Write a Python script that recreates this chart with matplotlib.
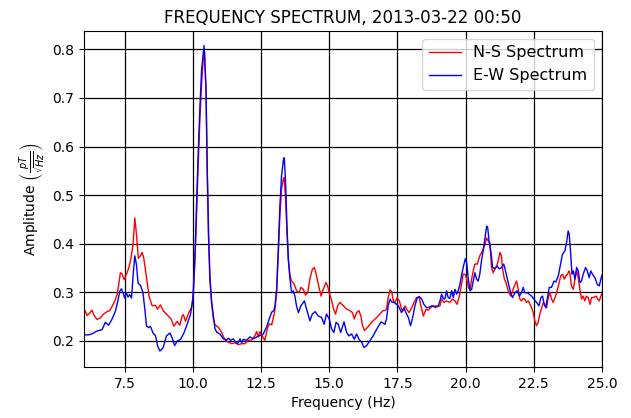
import matplotlib
matplotlib.use("Agg")
import matplotlib.pyplot as plt
import numpy as np

TITLE = "FREQUENCY SPECTRUM, 2013-03-22 00:50"
XTICKS = [7.5, 10.0, 12.5, 15.0, 17.5, 20.0, 22.5, 25.0]
YTICKS = [0.2, 0.3, 0.4, 0.5, 0.6, 0.7, 0.8]

# N-S spectrum
NS_FREQ = [
    6.00, 6.05, 6.12, 6.20, 6.30, 6.38, 6.48, 6.61, 6.72, 6.85, 6.95, 7.03, 7.16, 7.22,
    7.28, 7.34, 7.40, 7.48, 7.55, 7.65, 7.73, 7.81, 7.87, 7.93, 8.00, 8.08, 8.14, 8.20,
    8.30, 8.40, 8.51, 8.63, 8.70, 8.81, 8.91, 9.03, 9.12, 9.20, 9.30, 9.37, 9.42, 9.52,
    9.60, 9.65, 9.73, 9.85, 9.95,
    10.02, 10.08, 10.14, 10.20, 10.26, 10.32, 10.38, 10.43, 10.48, 10.52, 10.57, 10.62,
    10.68, 10.75, 10.81, 10.93, 11.05, 11.12, 11.21, 11.30, 11.42, 11.54, 11.67, 11.79,
    11.91, 12.03, 12.15, 12.28, 12.34, 12.40, 12.46, 12.56, 12.64, 12.73, 12.80, 12.89,
    12.97,
    13.01, 13.07, 13.13, 13.19, 13.25, 13.32, 13.35, 13.40, 13.45, 13.50, 13.56, 13.62,
    13.72, 13.80, 13.89, 13.96, 14.05, 14.13, 14.21, 14.29, 14.38, 14.45, 14.51, 14.60,
    14.70, 14.78, 14.88, 14.94, 15.00, 15.09, 15.16, 15.23, 15.31, 15.39, 15.52, 15.64,
    15.76, 15.85, 15.92, 16.00, 16.09, 16.16, 16.22, 16.29, 16.41, 16.55, 16.74, 16.90,
    16.98,
    17.04, 17.10, 17.16, 17.23, 17.29, 17.35, 17.41, 17.49, 17.57, 17.65, 17.71, 17.78,
    17.84, 17.93, 18.02, 18.11, 18.20, 18.30, 18.36, 18.45, 18.55, 18.63, 18.72, 18.79,
    18.88, 18.96, 19.06, 19.12, 19.21, 19.30, 19.42, 19.52, 19.61, 19.69, 19.77, 19.85,
    19.91, 19.98, 20.04, 20.10, 20.16, 20.22, 20.28, 20.34, 20.43, 20.52, 20.62, 20.71,
    20.77, 20.83,
    20.89, 20.95, 21.01, 21.07, 21.14, 21.21, 21.26, 21.31, 21.36, 21.42, 21.48, 21.56,
    21.65, 21.72, 21.81, 21.87, 21.93, 21.99, 22.05, 22.11, 22.17, 22.23, 22.30, 22.36,
    22.42, 22.48, 22.54, 22.60, 22.66, 22.72, 22.79, 22.85, 22.91, 22.97, 23.03, 23.09,
    23.15, 23.21, 23.30, 23.37, 23.43, 23.49, 23.55, 23.62, 23.68, 23.74, 23.79, 23.82,
    23.88, 23.95, 24.01, 24.07, 24.13, 24.19, 24.25, 24.31, 24.37, 24.43, 24.50, 24.56,
    24.62, 24.68, 24.78, 24.84, 24.90, 24.96, 25.00,
]
NS_AMP = [
    0.255, 0.262, 0.252, 0.256, 0.263, 0.252, 0.244, 0.247, 0.255, 0.260, 0.262, 0.270, 0.285, 0.295,
    0.315, 0.340, 0.338, 0.326, 0.335, 0.350, 0.370, 0.400, 0.453, 0.420, 0.370, 0.375, 0.382, 0.370,
    0.330, 0.290, 0.272, 0.273, 0.265, 0.274, 0.262, 0.255, 0.250, 0.245, 0.230, 0.236, 0.240, 0.232,
    0.250, 0.254, 0.240, 0.258, 0.268,
    0.300, 0.370, 0.470, 0.570, 0.660, 0.730, 0.780, 0.795, 0.720, 0.560, 0.420, 0.330,
    0.280, 0.245, 0.233, 0.228, 0.218, 0.208, 0.201, 0.197, 0.194, 0.196, 0.192, 0.194,
    0.194, 0.201, 0.201, 0.211, 0.219, 0.208, 0.219, 0.208, 0.201, 0.225, 0.235, 0.233,
    0.252,
    0.265, 0.299, 0.375, 0.457, 0.512, 0.534, 0.536, 0.491, 0.423, 0.368, 0.334, 0.323,
    0.316, 0.303, 0.299, 0.310, 0.306, 0.294, 0.299, 0.327, 0.347, 0.351, 0.340, 0.316,
    0.292, 0.306, 0.320, 0.313, 0.299, 0.282, 0.265, 0.255, 0.272, 0.279, 0.272, 0.265,
    0.262, 0.258, 0.245, 0.258, 0.262, 0.251, 0.231, 0.221, 0.228, 0.238, 0.248, 0.258,
    0.262,
    0.262, 0.265, 0.289, 0.305, 0.301, 0.282, 0.279, 0.289, 0.282, 0.265, 0.262, 0.272,
    0.265, 0.258, 0.268, 0.279, 0.289, 0.289, 0.272, 0.251, 0.265, 0.263, 0.268, 0.272,
    0.268, 0.270, 0.272, 0.286, 0.279, 0.282, 0.279, 0.286, 0.282, 0.275, 0.292, 0.316,
    0.337, 0.337, 0.327, 0.310, 0.305, 0.327, 0.344, 0.358, 0.358, 0.375, 0.385, 0.399,
    0.412, 0.405,
    0.402, 0.351, 0.340, 0.347, 0.354, 0.368, 0.382, 0.375, 0.347, 0.327, 0.320, 0.303,
    0.292, 0.303, 0.316, 0.323, 0.306, 0.286, 0.282, 0.287, 0.286, 0.279, 0.282, 0.275,
    0.268, 0.258, 0.240, 0.231, 0.238, 0.255, 0.268, 0.279, 0.275, 0.268, 0.289, 0.299,
    0.286, 0.279, 0.292, 0.306, 0.320, 0.334, 0.337, 0.327, 0.334, 0.337, 0.344, 0.340,
    0.313, 0.306, 0.327, 0.344, 0.330, 0.306, 0.286, 0.292, 0.282, 0.292, 0.289, 0.275,
    0.289, 0.289, 0.292, 0.286, 0.282, 0.292, 0.298,
]

# E-W spectrum
EW_FREQ = [
    6.00, 6.12, 6.24, 6.36, 6.48, 6.67, 6.79, 6.91, 7.03, 7.16, 7.26, 7.32, 7.38, 7.44,
    7.50, 7.56, 7.62, 7.68, 7.75, 7.81, 7.87, 7.93, 7.99, 8.08, 8.17, 8.24, 8.30, 8.38,
    8.44, 8.54, 8.63, 8.71, 8.79, 8.91, 9.03, 9.16, 9.24, 9.33, 9.42, 9.55, 9.67, 9.79,
    9.91,
    10.00, 10.08, 10.14, 10.20, 10.26, 10.32, 10.41, 10.48, 10.53, 10.58, 10.63, 10.69,
    10.75, 10.81, 10.87, 10.99, 11.12, 11.21, 11.30, 11.39, 11.48, 11.57, 11.64, 11.73,
    11.79, 11.85, 11.97, 12.09, 12.22, 12.34, 12.46, 12.58, 12.70, 12.80, 12.89, 12.97,
    13.01, 13.07, 13.13, 13.19, 13.25, 13.32, 13.35, 13.40, 13.45, 13.50, 13.56, 13.62,
    13.68, 13.74, 13.80, 13.87, 13.96, 14.09, 14.17, 14.29, 14.38, 14.48, 14.60, 14.72,
    14.81, 14.90, 15.00, 15.09, 15.17, 15.25, 15.33, 15.42, 15.54, 15.64, 15.72, 15.82,
    15.92, 16.00, 16.09, 16.19, 16.27, 16.37, 16.49, 16.61, 16.74, 16.90, 16.98,
    17.04, 17.10, 17.16, 17.23, 17.29, 17.37, 17.47, 17.53, 17.59, 17.65, 17.74, 17.81,
    17.90, 17.98, 18.06, 18.14, 18.23, 18.30, 18.39, 18.47, 18.57, 18.67, 18.75, 18.88,
    19.00, 19.06, 19.12, 19.18, 19.24, 19.30, 19.36, 19.42, 19.49, 19.55, 19.61, 19.67,
    19.73, 19.79, 19.85, 19.91, 19.99, 20.04, 20.10, 20.16, 20.22, 20.28, 20.34, 20.40,
    20.46, 20.52, 20.59, 20.65, 20.71, 20.77, 20.81, 20.86,
    20.93, 20.99, 21.07, 21.16, 21.23, 21.32, 21.40, 21.48, 21.56, 21.65, 21.72, 21.81,
    21.89, 21.97, 22.05, 22.11, 22.17, 22.26, 22.33, 22.42, 22.50, 22.60, 22.69, 22.76,
    22.82, 22.88, 22.94, 23.01, 23.07, 23.15, 23.24, 23.31, 23.40, 23.48, 23.55, 23.64,
    23.70, 23.76, 23.80, 23.85, 23.90, 23.95, 24.01, 24.07, 24.13, 24.19, 24.25, 24.31,
    24.40, 24.46, 24.53, 24.59, 24.65, 24.74, 24.83, 24.90, 24.96, 25.00,
]
EW_AMP = [
    0.213, 0.212, 0.213, 0.216, 0.220, 0.223, 0.238, 0.232, 0.244, 0.261, 0.285, 0.302, 0.307, 0.299,
    0.288, 0.299, 0.290, 0.295, 0.288, 0.336, 0.375, 0.357, 0.319, 0.314, 0.299, 0.264, 0.230, 0.227,
    0.230, 0.216, 0.210, 0.189, 0.179, 0.186, 0.210, 0.216, 0.206, 0.190, 0.199, 0.203, 0.216, 0.234,
    0.254,
    0.285, 0.380, 0.492, 0.595, 0.684, 0.759, 0.808, 0.718, 0.547, 0.410, 0.327, 0.279,
    0.252, 0.225, 0.218, 0.214, 0.204, 0.201, 0.205, 0.201, 0.204, 0.197, 0.194, 0.204,
    0.196, 0.203, 0.201, 0.208, 0.204, 0.208, 0.211, 0.214, 0.228, 0.245, 0.259, 0.262,
    0.272, 0.306, 0.388, 0.477, 0.539, 0.573, 0.577, 0.525, 0.436, 0.368, 0.327, 0.299,
    0.303, 0.292, 0.272, 0.258, 0.272, 0.282, 0.265, 0.241, 0.255, 0.260, 0.251, 0.248,
    0.234, 0.255, 0.245, 0.224, 0.217, 0.238, 0.234, 0.217, 0.239, 0.217, 0.210, 0.214,
    0.203, 0.214, 0.203, 0.197, 0.186, 0.190, 0.200, 0.210, 0.224, 0.239, 0.236,
    0.234, 0.245, 0.272, 0.286, 0.280, 0.279, 0.275, 0.272, 0.265, 0.258, 0.268, 0.258,
    0.248, 0.231, 0.248, 0.272, 0.289, 0.291, 0.286, 0.275, 0.268, 0.269, 0.272, 0.271,
    0.272, 0.282, 0.296, 0.287, 0.286, 0.303, 0.289, 0.287, 0.303, 0.289, 0.306, 0.296,
    0.303, 0.316, 0.334, 0.351, 0.369, 0.361, 0.327, 0.303, 0.306, 0.323, 0.340, 0.327,
    0.323, 0.337, 0.368, 0.388, 0.412, 0.436, 0.433, 0.405,
    0.382, 0.351, 0.349, 0.354, 0.348, 0.351, 0.358, 0.340, 0.320, 0.299, 0.289, 0.299,
    0.303, 0.292, 0.299, 0.310, 0.299, 0.299, 0.296, 0.292, 0.286, 0.279, 0.272, 0.289,
    0.292, 0.275, 0.268, 0.292, 0.310, 0.310, 0.323, 0.321, 0.334, 0.358, 0.378, 0.385,
    0.402, 0.426, 0.419, 0.382, 0.337, 0.344, 0.327, 0.351, 0.344, 0.320, 0.323, 0.337,
    0.351, 0.344, 0.330, 0.344, 0.337, 0.330, 0.316, 0.313, 0.327, 0.335,
]


def main() -> None:
    fig = plt.figure(figsize=(6.31, 4.18), dpi=100)
    ax = fig.add_axes([0.1328, 0.122, 0.954 - 0.1328, 0.926 - 0.122])

    ax.plot(NS_FREQ, NS_AMP, color="red", linewidth=1.0, label="N-S Spectrum")
    ax.plot(EW_FREQ, EW_AMP, color="blue", linewidth=1.0, label="E-W Spectrum")

    ax.set_xlim(6.0, 25.0)
    ax.set_ylim(0.146, 0.838)
    ax.set_xticks(XTICKS)
    ax.set_yticks(YTICKS)
    ax.grid(True, color="black", linewidth=0.9)

    ax.set_title(TITLE, fontsize=12)
    ax.set_xlabel("Frequency (Hz)")
    ax.set_ylabel(r"Amplitude $\left(\frac{pT}{\sqrt{Hz}}\right)$")
    ax.legend(loc="upper right", fontsize=11.5)

    fig.savefig("out.png", dpi=100)
    plt.close(fig)


if __name__ == "__main__":
    main()
